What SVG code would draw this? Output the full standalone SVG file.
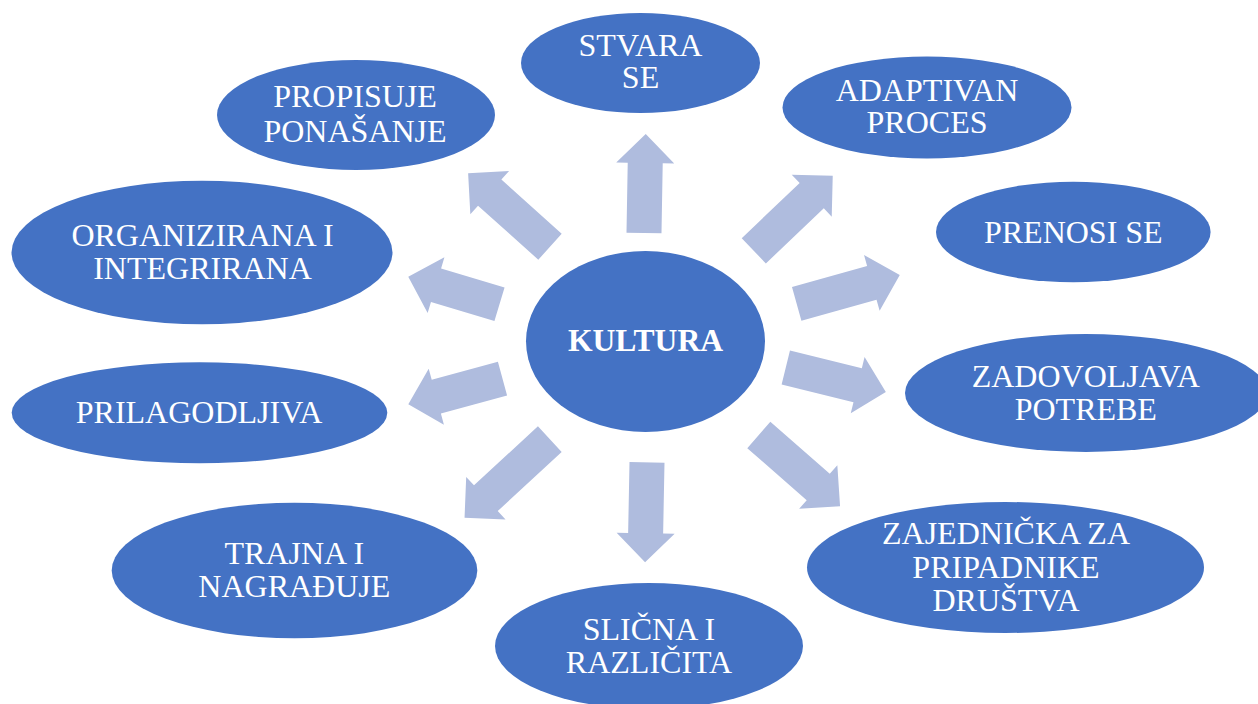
<svg xmlns="http://www.w3.org/2000/svg" width="1258" height="704" viewBox="0 0 1258 704">
<style>
.n{fill:#4472C4;}
.t{font-family:"Liberation Serif","Times New Roman",serif;font-size:32px;fill:#FFFFFF;text-anchor:middle;}
.b{font-weight:bold;font-size:31.6px;}
.a{fill:#AFBCDE;}
</style>
<rect width="1258" height="704" fill="#FFFFFF"/>
<g id="connectors">
<path class="a" d="M0,-17.5H70V-29L99,0L70,29V17.5H0Z" transform="translate(644,233) rotate(-89)"/>
<path class="a" d="M0,-17.5H81V-29L110,0L81,29V17.5H0Z" transform="translate(550,246.7) rotate(-138.1)"/>
<path class="a" d="M0,-17.5H80V-29L109,0L80,29V17.5H0Z" transform="translate(753.8,250.8) rotate(-43.6)"/>
<path class="a" d="M0,-17.5H78V-29L107,0L78,29V17.5H0Z" transform="translate(796.7,303.8) rotate(-15.6)"/>
<path class="a" d="M0,-17.5H74V-29L103,0L74,29V17.5H0Z" transform="translate(785.8,367.5) rotate(13.8)"/>
<path class="a" d="M0,-17.5H79V-29L108,0L79,29V17.5H0Z" transform="translate(758.8,435) rotate(41.2)"/>
<path class="a" d="M0,-17.5H71V-29L100,0L71,29V17.5H0Z" transform="translate(647,462.3) rotate(91.1)"/>
<path class="a" d="M0,-17.5H87V-29L116,0L87,29V17.5H0Z" transform="translate(549.8,439.2) rotate(137.3)"/>
<path class="a" d="M0,-17.5H68.6V-29L97.6,0L68.6,29V17.5H0Z" transform="translate(502.5,378.7) rotate(164.8)"/>
<path class="a" d="M0,-17.5H66.3V-29L95.3,0L66.3,29V17.5H0Z" transform="translate(499.5,304.3) rotate(-163.2)"/>
</g>
<g id="kultura">
<ellipse class="n" cx="645.5" cy="341.5" rx="119.5" ry="90.5"/>
<text class="t b" x="645.5" y="351">KULTURA</text>
</g>
<g id="stvara">
<ellipse class="n" cx="640.5" cy="63" rx="119.5" ry="50"/>
<text class="t" x="640.5" y="55.7">STVARA</text>
<text class="t" x="640.5" y="88">SE</text>
</g>
<g id="propisuje">
<ellipse class="n" cx="356" cy="115" rx="139" ry="55"/>
<text class="t" x="355" y="106.7">PROPISUJE</text>
<text class="t" x="355" y="141.7">PONAŠANJE</text>
</g>
<g id="adaptivan">
<ellipse class="n" cx="927" cy="107.5" rx="144.5" ry="51"/>
<text class="t" x="927" y="101">ADAPTIVAN</text>
<text class="t" x="927" y="133.3">PROCES</text>
</g>
<g id="prenosi">
<ellipse class="n" cx="1073.3" cy="232" rx="137.3" ry="50.3"/>
<text class="t" x="1073.3" y="243.3">PRENOSI SE</text>
</g>
<g id="zadovoljava">
<ellipse class="n" cx="1086" cy="393" rx="181" ry="59"/>
<text class="t" x="1085.8" y="386.7">ZADOVOLJAVA</text>
<text class="t" x="1085.8" y="420">POTREBE</text>
</g>
<g id="zajednicka">
<ellipse class="n" cx="1005.5" cy="567.5" rx="198.5" ry="65.5"/>
<text class="t" x="1006" y="544">ZAJEDNIČKA ZA</text>
<text class="t" x="1006" y="578">PRIPADNIKE</text>
<text class="t" x="1006" y="611">DRUŠTVA</text>
</g>
<g id="slicna">
<ellipse class="n" cx="649" cy="646" rx="154" ry="63"/>
<text class="t" x="649" y="640">SLIČNA I</text>
<text class="t" x="649" y="672.7">RAZLIČITA</text>
</g>
<g id="trajna">
<ellipse class="n" cx="294.5" cy="570.5" rx="182.8" ry="67.8"/>
<text class="t" x="294.3" y="564">TRAJNA I</text>
<text class="t" x="294.3" y="597.3">NAGRAĐUJE</text>
</g>
<g id="prilagodljiva">
<ellipse class="n" cx="199.5" cy="412.8" rx="187.8" ry="50.5"/>
<text class="t" x="199" y="423.3">PRILAGODLJIVA</text>
</g>
<g id="organizirana">
<ellipse class="n" cx="202" cy="252.5" rx="190.5" ry="71.8"/>
<text class="t" x="202.5" y="246">ORGANIZIRANA I</text>
<text class="t" x="202.5" y="279">INTEGRIRANA</text>
</g>
</svg>
